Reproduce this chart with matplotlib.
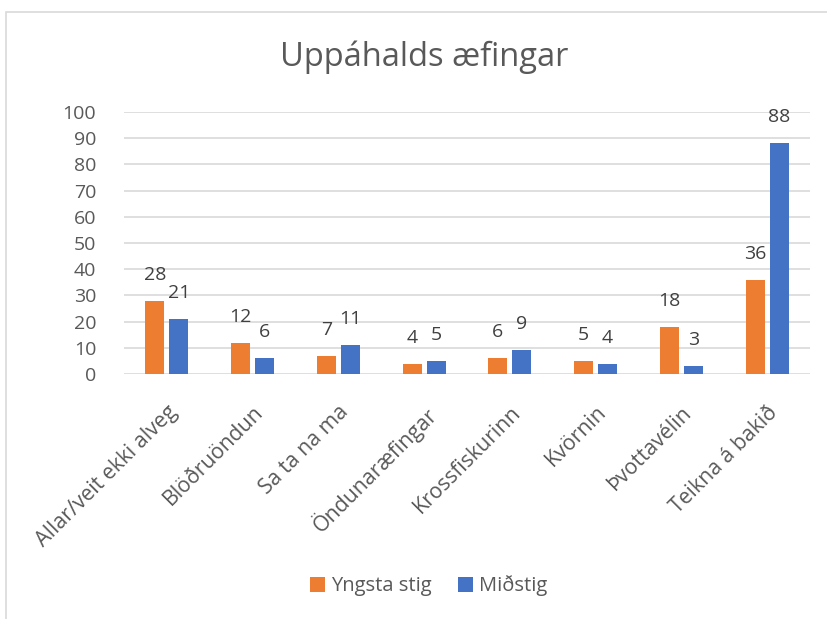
import matplotlib
matplotlib.use("Agg")
import matplotlib.pyplot as plt
import matplotlib.transforms as mtrans
import numpy as np
from matplotlib.patches import Rectangle

categories = ["Allar/veit ekki alveg", "Blöðruöndun", "Sa ta na ma", "Öndunaræfingar",
              "Krossfiskurinn", "Kvörnin", "Þvottavélin", "Teikna á bakið"]
series_names = ["Yngsta stig", "Miðstig"]
yngsta = [28, 12, 7, 4, 6, 5, 18, 36]
midstig = [21, 6, 11, 5, 9, 4, 3, 88]
yticks = [0, 10, 20, 30, 40, 50, 60, 70, 80, 90, 100]

ORANGE = "#ED7D31"
BLUE = "#4472C4"
TXT = "#595959"
GRID = "#D9D9D9"

plt.rcParams['font.family'] = ['Open Sans', 'DejaVu Sans']

W, H = 828, 619
fig = plt.figure(figsize=(W / 100, H / 100), dpi=100)

# chart frame
fig.patches.append(Rectangle((6 / W, -0.1), 1.2, (H - 12) / H + 0.1, transform=fig.transFigure,
                             fill=False, edgecolor=GRID, linewidth=1.2))

ax = fig.add_axes([124 / W, (H - 374) / H, (810 - 124) / W, (374 - 112) / H])
x = np.arange(len(categories))
bw = 0.22
off = 0.14
b1 = ax.bar(x - off, yngsta, bw, color=ORANGE, label=series_names[0], zorder=3)
b2 = ax.bar(x + off, midstig, bw, color=BLUE, label=series_names[1], zorder=3)

for bars in (b1, b2):
    for r in bars:
        ax.annotate(f"{int(r.get_height())}", (r.get_x() + r.get_width() / 2, r.get_height()),
                    xytext=(0, 17), textcoords="offset pixels", ha="center", va="bottom",
                    fontsize=14, color="#404040")

ax.set_xlim(-0.5, len(categories) - 0.5)
ax.set_ylim(0, 100)
ax.set_yticks(yticks)
ax.yaxis.grid(True, color=GRID, linewidth=1.2, zorder=0)
for s in ax.spines.values():
    s.set_visible(False)
ax.tick_params(axis="y", length=0, labelsize=14, labelcolor=TXT, pad=20)
ax.tick_params(axis="x", length=0, labelsize=15.3, labelcolor=TXT, pad=20)
ax.set_xticks(x)
ax.set_xticklabels(categories, rotation=45, ha="right", rotation_mode="anchor")
shift = mtrans.ScaledTranslation(0, 0, fig.dpi_scale_trans)
for lbl in ax.get_xticklabels():
    lbl.set_transform(lbl.get_transform() + shift)

fig.text(424 / W, 1 - 57 / H, "Uppáhalds æfingar", ha="center", va="center",
         fontsize=23.5, color=TXT)

fig.legend(handles=[b1, b2], labels=series_names, loc="center", bbox_to_anchor=(429 / W, 1 - 586 / H),
           ncol=2, frameon=False, fontsize=14.5, handlelength=0.75, handleheight=0.75,
           handletextpad=0.3, columnspacing=1.3, labelcolor=TXT)

fig.savefig("out.png", dpi=100)
